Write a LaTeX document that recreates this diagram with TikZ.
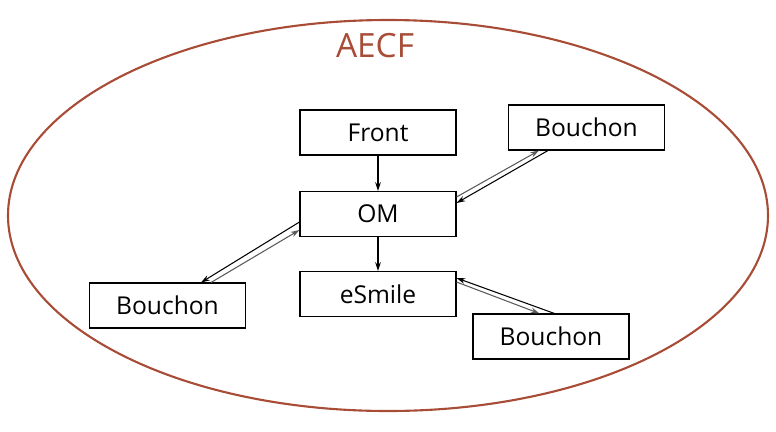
\documentclass[tikz,border=0pt]{standalone}
\usepackage{fontspec}
\setmainfont{Open Sans}
\usetikzlibrary{arrows.meta}
\definecolor{aecfred}{RGB}{168,76,54}
\begin{document}
\begin{tikzpicture}[>={Stealth[length=5pt,width=3.2pt]}]
        \tikzstyle{module}=[draw=black,line width=0.6pt,minimum width=3.12cm,minimum height=0.9cm,inner sep=0pt,font=\fontsize{14}{16}\selectfont]
        \tikzstyle{flow}=[->,draw=black,line width=0.6pt]
        \tikzstyle{back}=[->,draw=black!65,line width=0.6pt]
        \useasboundingbox (0,0) rectangle (15.52,-8.62);
       \begin{scope}
         \draw[aecfred,line width=1.2pt] (7.76,-4.31) ellipse [x radius=7.6cm,y radius=3.91cm];
         \node [text=aecfred,font=\fontsize{19}{22}\selectfont] (aecf) at (7.5,-0.92) {AECF};
         \node [module] (front) at (7.56,-2.65) {Front};
         \node [module] (om) at (7.56,-4.28) {OM};
         \node [module] (esmile) at (7.56,-5.88) {eSmile};
         \node [module] (bouchonA) at (11.73,-2.55) {Bouchon};
         \node [module] (bouchonB) at (3.35,-6.11) {Bouchon};
         \node [module] (bouchonC) at (11.02,-6.73) {Bouchon};
         \path[flow] (front) -- (om);
         \path[flow] (om) -- (esmile);
         \path[back] ([yshift=0.34cm]om.east) -- ([xshift=0.62cm]bouchonA.south west);
         \path[flow] ([xshift=0.8cm]bouchonA.south west) -- ([yshift=0.22cm]om.east);
         \path[flow] ([yshift=-0.16cm]om.west) -- ([xshift=-0.9cm]bouchonB.north east);
         \path[back] ([xshift=-0.7cm]bouchonB.north east) -- ([yshift=-0.32cm]om.west);
         \path[flow] ([xshift=1.64cm]bouchonC.north west) -- ([yshift=0.32cm]esmile.east);
         \path[back] ([yshift=0.24cm]esmile.east) -- ([xshift=1.34cm]bouchonC.north west);
        \end{scope}
      \end{tikzpicture}
\end{document}
